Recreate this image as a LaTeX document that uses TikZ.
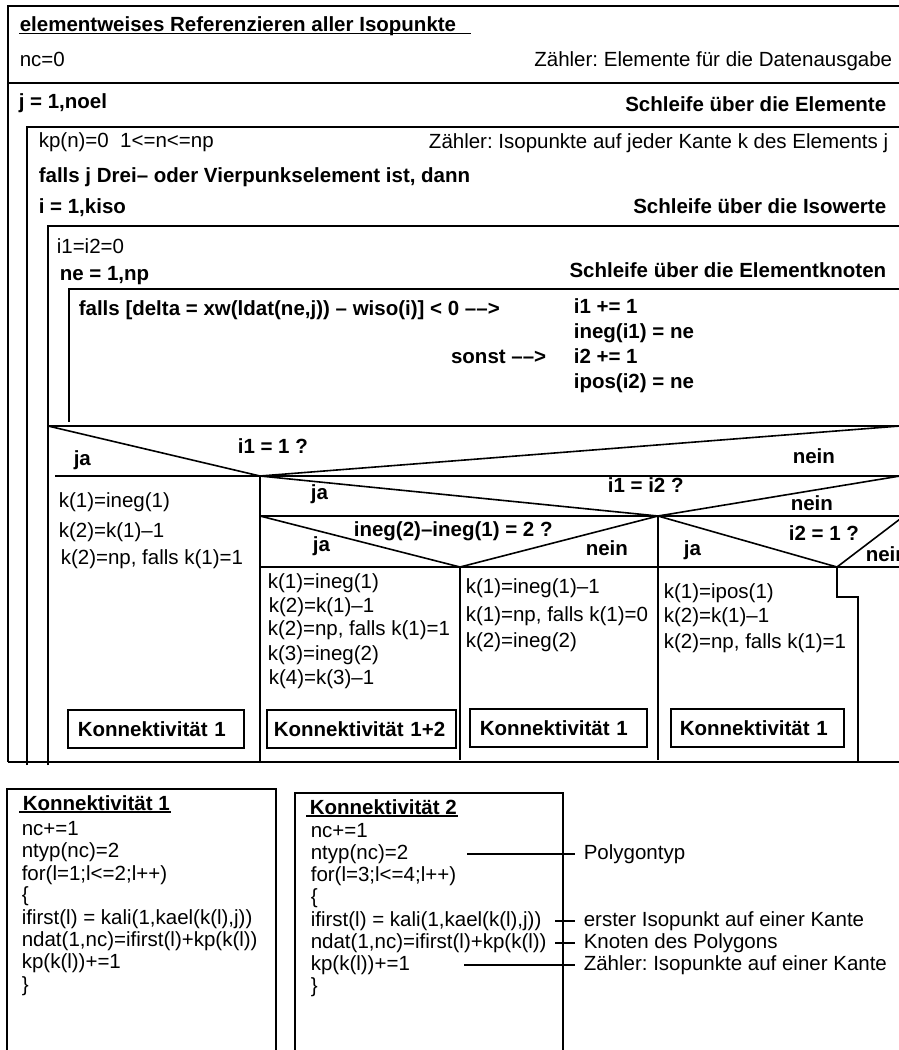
\documentclass[tikz,border=0pt]{standalone}
\usepackage{fontspec}
\setmainfont{Liberation Sans}
\frenchspacing
\begin{document}
\begin{tikzpicture}[x=1pt,y=-1pt,line width=1.6pt,
  txt/.style={anchor=base west,inner sep=0pt,font=\fontsize{20.5}{24}\selectfont},
  btxt/.style={txt,font=\fontsize{20.5}{24}\selectfont\bfseries},
  rtxt/.style={txt,anchor=base east},
  brtxt/.style={btxt,anchor=base east},
  kbox/.style={draw,inner ysep=0pt,minimum height=38pt,align=left,
    font=\fontsize{20.5}{24}\selectfont\bfseries},
  note/.style={anchor=west,inner xsep=8pt,inner ysep=0pt,font=\fontsize{20.5}{24}\selectfont},
  uline/.style={line width=1.3pt}]
\useasboundingbox (0,0) rectangle (899,1050);
\clip (0,0) rectangle (899,1050);

% ---------- structogram frame ----------
\draw (8,762) -- (8,6) -- (905,6);
\draw (8,83) -- (905,83);
\draw (27,765) -- (27,127) -- (905,127);
\draw (48,765) -- (48,226) -- (905,226);
\draw (69,422) -- (69,289) -- (905,289);
\draw (48,426) -- (905,426);
% decision i1 = 1 ?
\draw (48,426) -- (260,476) -- (900,426);
\draw (55,476) -- (905,476);
\draw (260,476) -- (260,762);
% decision i1 = i2 ?
\draw (260,476) -- (658,516) -- (900,476);
\draw (260,516) -- (905,516);
% decision ineg(2)-ineg(1) = 2 ?
\draw (260,516) -- (460,567) -- (658,516);
% decision i2 = 1 ?
\draw (658,516) -- (837,567) -- (904,516);
\draw (260,567) -- (905,567);
\draw (460,567) -- (460,760);
\draw (658,516) -- (658,760);
\draw (837,567) -- (837,597) -- (858,597) -- (858,762);
\draw (8,762) -- (905,762);

% ---------- header ----------
\node[btxt] (title) at (19,31.5) {elementweises Referenzieren aller Isopunkte};
\draw[uline] ([yshift=-2pt]title.base west) -- ([yshift=-2pt,xshift=14pt]title.base east);
\node[txt] (nc0) at (19,66) {nc=0};
\node[rtxt] (ncnote) at (893,66) {Zähler: Elemente für die Datenausgabe};

% ---------- loop over elements ----------
\node[btxt] (jloop) at (18,108) {j = 1,noel};
\node[brtxt] (jnote) at (887,111) {Schleife über die Elemente};
\node[txt] (kp) at (38,147) {kp(n)=0\ \ 1<=n<=np};
\node[rtxt] (kpnote) at (889,148) {Zähler: Isopunkte auf jeder Kante k des Elements j};
\node[btxt] (cond) at (38,182) {falls j Drei– oder Vierpunkselement ist, dann};
\node[btxt] (iloop) at (38,213) {i = 1,kiso};
\node[brtxt] (inote) at (887,213) {Schleife über die Isowerte};
\node[txt] (init) at (56,253) {i1=i2=0};
\node[btxt] (neloop) at (59,280) {ne = 1,np};
\node[brtxt] (nenote) at (887,277) {Schleife über die Elementknoten};
\node[btxt] (test) at (78,315) {falls [delta = xw(ldat(ne,j)) – wiso(i)] < 0 ––>};
\node[btxt] (a1) at (573,313) {i1 += 1};
\node[btxt] (a2) at (573,338) {ineg(i1) = ne};
\node[brtxt] (else) at (547,363) {sonst ––>};
\node[btxt] (b1) at (573,363) {i2 += 1};
\node[btxt] (b2) at (573,388) {ipos(i2) = ne};

% ---------- decision labels ----------
\node[btxt] (ja1) at (73,465) {ja};
\node[btxt] (q1) at (237,453) {i1 = 1 ?};
\node[btxt] (nein1) at (792,463) {nein};
\node[btxt] (ja2) at (310,499) {ja};
\node[btxt] (q2) at (607,492) {i1 = i2 ?};
\node[btxt] (nein2) at (790,510) {nein};
\node[btxt] (q3) at (353,536) {ineg(2)–ineg(1) = 2 ?};
\node[btxt] (ja3) at (312,551) {ja};
\node[btxt] (nein3) at (585,555) {nein};
\node[btxt] (ja4) at (683,555) {ja};
\node[btxt] (q4) at (788,540) {i2 = 1 ?};
\node[btxt] (nein4) at (865,561) {nein};

% ---------- branch contents ----------
\node[txt] (c11) at (58,507) {k(1)=ineg(1)};
\node[txt] (c12) at (58,537) {k(2)=k(1)–1};
\node[txt] (c13) at (60,564) {k(2)=np, falls k(1)=1};
\node[kbox,anchor=west,inner xsep=10pt,text width=156pt] (k1) at (67,729) {Konnektivität 1};

\node[txt] (c21) at (267,588) {k(1)=ineg(1)};
\node[txt] (c22) at (268,612) {k(2)=k(1)–1};
\node[txt] (c23) at (267,635) {k(2)=np, falls k(1)=1};
\node[txt] (c24) at (267,660) {k(3)=ineg(2)};
\node[txt] (c25) at (268,684) {k(4)=k(3)–1};
\node[kbox,anchor=west,inner xsep=7pt,text width=175pt] (k12) at (266,729) {Konnektivität 1+2};

\node[txt] (c31) at (465,593) {k(1)=ineg(1)–1};
\node[txt] (c32) at (465,621) {k(1)=np, falls k(1)=0};
\node[txt] (c33) at (465,647) {k(2)=ineg(2)};
\node[kbox,anchor=west,inner xsep=10pt,text width=157pt] (k1b) at (469,728) {Konnektivität 1};

\node[txt] (c41) at (663,598) {k(1)=ipos(1)};
\node[txt] (c42) at (663,622) {k(2)=k(1)–1};
\node[txt] (c43) at (663,648) {k(2)=np, falls k(1)=1};
\node[kbox,anchor=west,inner xsep=9pt,text width=155pt] (k1c) at (670,728) {Konnektivität 1};

% ---------- procedure Konnektivitaet 1 ----------
\draw (7,1055) -- (7,789) -- (276,789) -- (276,1055);
\node[btxt] (p1t) at (22,810) {Konnektivität 1};
\draw[uline] ([yshift=-2pt,xshift=-3pt]p1t.base west) -- ([yshift=-2pt]p1t.base east);
\node[txt] (p11) at (21,835) {nc+=1};
\node[txt] (p12) at (21,857) {ntyp(nc)=2};
\node[txt] (p13) at (21,880) {for(l=1;l<=2;l++)};
\node[txt] (p14) at (21,901) {\{};
\node[txt] (p15) at (21,924) {ifirst(l) = kali(1,kael(k(l),j))};
\node[txt] (p16) at (21,946) {ndat(1,nc)=ifirst(l)+kp(k(l))};
\node[txt] (p17) at (21,968) {kp(k(l))+=1};
\node[txt] (p18) at (21,991) {\}};

% ---------- procedure Konnektivitaet 2 ----------
\draw (295,1055) -- (295,793) -- (563,793) -- (563,1055);
\node[btxt] (p2t) at (309,814) {Konnektivität 2};
\draw[uline] ([yshift=-2pt,xshift=-3pt]p2t.base west) -- ([yshift=-2pt]p2t.base east);
\node[txt] (p21) at (310,837) {nc+=1};
\node[txt] (p22) at (310,859) {ntyp(nc)=2};
\node[txt] (p23) at (310,881) {for(l=3;l<=4;l++)};
\node[txt] (p24) at (310,903) {\{};
\node[txt] (p25) at (310,926) {ifirst(l) = kali(1,kael(k(l),j))};
\node[txt] (p26) at (310,948) {ndat(1,nc)=ifirst(l)+kp(k(l))};
\node[txt] (p27) at (310,970) {kp(k(l))+=1};
\node[txt] (p28) at (310,992) {\}};

% ---------- comments ----------
\node[note] (n1) at (575,854) {Polygontyp};
\node[note] (n2) at (575,921) {erster Isopunkt auf einer Kante};
\node[note] (n3) at (575,943) {Knoten des Polygons};
\node[note] (n4) at (575,965) {Zähler: Isopunkte auf einer Kante};
\coordinate (l1) at (467,0);
\coordinate (l2) at (555,0);
\coordinate (l4) at (464,0);
\begin{scope}[line width=1.3pt]
\draw (n1.west -| l1) -- (n1.west);
\draw (n2.west -| l2) -- (n2.west);
\draw (n3.west -| l2) -- (n3.west);
\draw (n4.west -| l4) -- (n4.west);
\end{scope}
\end{tikzpicture}
\end{document}
